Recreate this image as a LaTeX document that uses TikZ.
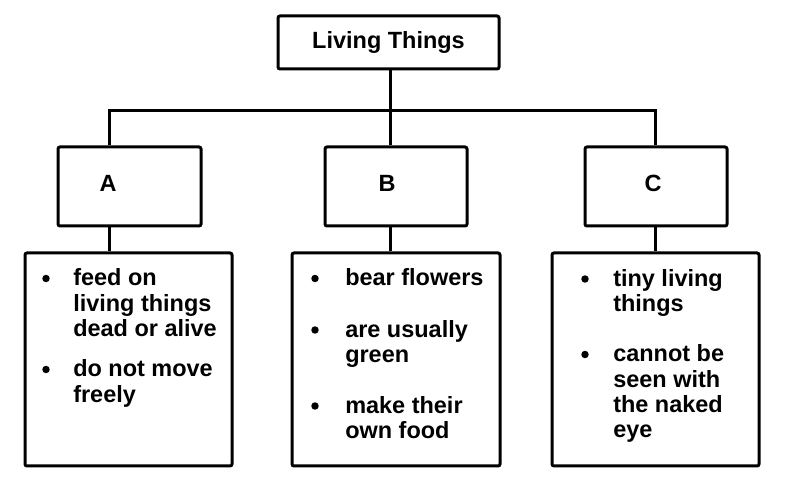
\documentclass[tikz,border=0pt]{standalone}
\usepackage{fontspec}
\setmainfont{Liberation Sans}
\usepackage{tikz}

\newcommand{\itemlines}[1]{\begin{tabular}[t]{@{}l@{}}#1\end{tabular}}

\begin{document}
\begin{tikzpicture}[x=0.75pt,y=0.75pt,yscale=-1,xscale=1,
    box/.style={draw, rounded corners=1.5pt, inner sep=0pt, line width=2.25pt},
    lbl/.style={inner sep=0pt, font=\fontsize{17.6}{19}\selectfont\bfseries},
    item/.style={anchor=base west, inner sep=0pt, font=\fontsize{17.6}{19}\selectfont\bfseries},
    dot/.style={circle, fill, inner sep=0pt, minimum size=5.6pt}]
    \useasboundingbox (0,0) rectangle (785,498); %set diagram size 785 x 498

    %Shape: Rectangle [top]
    \node [box, minimum width=165.75pt, minimum height=39.75pt, font=\fontsize{17.6}{19}\selectfont\bfseries] (top) at (388.5,42.5) {Living Things};
    %Shape: Rectangle [A, B, C]
    \node [box, minimum width=107.25pt, minimum height=59.25pt] (boxA) at (129.5,186.5) {};
    \node [box, minimum width=106.5pt, minimum height=59.25pt] (boxB) at (396,186.5) {};
    \node [box, minimum width=106.5pt, minimum height=59.25pt] (boxC) at (656,186.5) {};
    %Shape: Rectangle [lists]
    \node [box, minimum width=155.25pt, minimum height=159.75pt] (listA) at (128.5,359.5) {};
    \node [box, minimum width=156pt, minimum height=159.75pt] (listB) at (396,359.5) {};
    \node [box, minimum width=155.25pt, minimum height=159.75pt] (listC) at (655.5,359.5) {};

    %Branch points
    \coordinate (jA) at (109,111);
    \coordinate (jB) at (390,111);
    \coordinate (jC) at (655,111);

    %Straight Lines
    \draw [line width=2.25pt] (jB |- top.south) -- (jB) ;
    \draw [line width=2.25pt] (jA |- boxA.north) -- (jA) -- (jC) -- (jC |- boxC.north) ;
    \draw [line width=2.25pt] (jB) -- (jB |- boxB.north) ;
    \draw [line width=2.25pt] (jA |- boxA.south) -- (jA |- listA.north) ;
    \draw [line width=2.25pt] (jB |- boxB.south) -- (jB |- listB.north) ;
    \draw [line width=2.25pt] (jC |- boxC.south) -- (jC |- listC.north) ;

    % Text Node
    \node [lbl] (labA) at (108,183) {A};
    % Text Node
    \node [lbl] (labB) at (387,183) {B};
    % Text Node
    \node [lbl] (labC) at (653,183) {C};

    % Bullets and Text Nodes
    \node [dot] (dA1) at (46,278.5) {};
    \node [item] (tA1) at (73,286) {\itemlines{feed on\\living things\\dead or alive}};
    \node [dot] (dA2) at (46,369.5) {};
    \node [item] (tA2) at (73,377) {\itemlines{do not move\\freely}};
    % Bullets and Text Nodes
    \node [dot] (dB1) at (315,278.5) {};
    \node [item] (tB1) at (345,286) {bear flowers};
    \node [dot] (dB2) at (315,330) {};
    \node [item] (tB2) at (345,337.5) {\itemlines{are usually\\green}};
    \node [dot] (dB3) at (315,406) {};
    \node [item] (tB3) at (345,413.5) {\itemlines{make their\\own food}};
    % Bullets and Text Nodes
    \node [dot] (dC1) at (585,279) {};
    \node [item] (tC1) at (613,286.5) {\itemlines{tiny living\\things}};
    \node [dot] (dC2) at (585,354.5) {};
    \node [item] (tC2) at (613,362) {\itemlines{cannot be\\seen with\\the naked\\eye}};

\end{tikzpicture}
\end{document}
